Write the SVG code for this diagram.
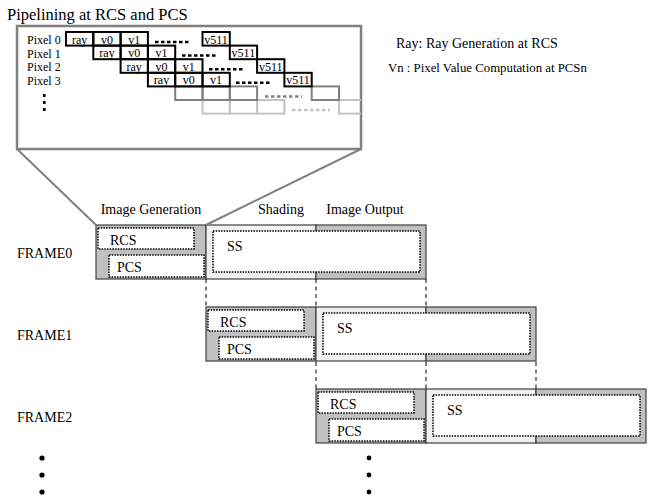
<svg xmlns="http://www.w3.org/2000/svg" width="654" height="497" viewBox="0 0 654 497">
<defs>
<style>
.t{font-family:"Liberation Serif","Times New Roman",serif;fill:#000}
.cell{fill:none;stroke:#000;stroke-width:2}
.c4{fill:none;stroke:#808080;stroke-width:2}
.c5{fill:none;stroke:#c4c4c4;stroke-width:2}
.dsh{stroke:#000;stroke-width:2.5;stroke-dasharray:3.5 2.5}
.dsh4{stroke:#808080;stroke-width:2.5;stroke-dasharray:3.5 2.5}
.dsh5{stroke:#c4c4c4;stroke-width:2.5;stroke-dasharray:3.5 2.5}
.dot{fill:#fff;stroke:#000;stroke-width:1.5;stroke-dasharray:1.5 1.2}
.gray{fill:#c0c0c0;stroke:#404040;stroke-width:1.2}
.light{fill:#f0f0f0;stroke:#404040;stroke-width:1.2}
.conn{stroke:#000;stroke-width:1;stroke-dasharray:4 3.5;fill:none}
.zl{stroke:#808080;stroke-width:2;fill:none}
</style>
<clipPath id="boxclip"><rect x="17" y="26" width="344" height="123"/></clipPath>
<g id="frameTpl">
<rect class="gray" x="0" y="0" width="110" height="54"/>
<rect class="light" x="110" y="0" width="110" height="54"/>
<rect class="gray" x="220" y="0" width="110" height="54"/>
<rect class="dot" x="2" y="3" width="96" height="21"/>
<rect class="dot" x="13" y="30" width="95" height="22"/>
<rect class="dot" x="117" y="6" width="207" height="41"/>
<text class="t" x="14" y="20" font-size="14">RCS</text>
<text class="t" x="21" y="47" font-size="14">PCS</text>
<text class="t" x="131" y="26" font-size="14">SS</text>
</g>
</defs>
<rect width="654" height="497" fill="#fff"/>

<text class="t" x="7" y="20" font-size="16.5">Pipelining at RCS and PCS</text>

<g id="zoombox">
<rect x="17" y="26" width="344" height="123" fill="#fff" stroke="#808080" stroke-width="2.5"/>
<g clip-path="url(#boxclip)">
<!-- row 5 light -->
<g>
<rect class="c5" x="202.5" y="100" width="27.3" height="13.6"/>
<rect class="c5" x="229.8" y="100" width="27.3" height="13.6"/>
<rect class="c5" x="257.1" y="100" width="27.3" height="13.6"/>
<rect class="c5" x="339" y="100" width="27.3" height="13.6"/>
<line class="dsh5" x1="292" y1="110" x2="330" y2="110"/>
</g>
<!-- row 4 gray -->
<g>
<rect class="c4" x="175.2" y="86.4" width="27.3" height="13.6"/>
<rect class="c4" x="202.5" y="86.4" width="27.3" height="13.6"/>
<rect class="c4" x="229.8" y="86.4" width="27.3" height="13.6"/>
<rect class="c4" x="311.7" y="86.4" width="27.3" height="13.6"/>
<line class="dsh4" x1="265" y1="96.4" x2="302" y2="96.4"/>
</g>
</g>
<!-- black rows -->
<g>
<rect class="cell" x="66" y="32" width="27.3" height="13.6"/>
<rect class="cell" x="93.3" y="32" width="27.3" height="13.6"/>
<rect class="cell" x="120.6" y="32" width="27.3" height="13.6"/>
<rect class="cell" x="202.5" y="32" width="27.3" height="13.6"/>
<line class="dsh" x1="155" y1="42" x2="191" y2="42"/>
<rect class="cell" x="93.3" y="45.6" width="27.3" height="13.6"/>
<rect class="cell" x="120.6" y="45.6" width="27.3" height="13.6"/>
<rect class="cell" x="147.9" y="45.6" width="27.3" height="13.6"/>
<rect class="cell" x="229.8" y="45.6" width="27.3" height="13.6"/>
<line class="dsh" x1="182" y1="55.6" x2="218" y2="55.6"/>
<rect class="cell" x="120.6" y="59.2" width="27.3" height="13.6"/>
<rect class="cell" x="147.9" y="59.2" width="27.3" height="13.6"/>
<rect class="cell" x="175.2" y="59.2" width="27.3" height="13.6"/>
<rect class="cell" x="257.1" y="59.2" width="27.3" height="13.6"/>
<line class="dsh" x1="209" y1="69.2" x2="245" y2="69.2"/>
<rect class="cell" x="147.9" y="72.8" width="27.3" height="13.6"/>
<rect class="cell" x="175.2" y="72.8" width="27.3" height="13.6"/>
<rect class="cell" x="202.5" y="72.8" width="27.3" height="13.6"/>
<rect class="cell" x="284.4" y="72.8" width="27.3" height="13.6"/>
<line class="dsh" x1="236" y1="82.8" x2="272" y2="82.8"/>
</g>
<g class="t" font-size="12" text-anchor="middle">
<text x="79.6" y="43.5">ray</text><text x="107" y="43.5">v0</text><text x="134.2" y="43.5">v1</text><text x="216.1" y="43.5">v511</text>
<text x="107" y="57.1">ray</text><text x="134.2" y="57.1">v0</text><text x="161.5" y="57.1">v1</text><text x="243.4" y="57.1">v511</text>
<text x="134.2" y="70.7">ray</text><text x="161.5" y="70.7">v0</text><text x="188.8" y="70.7">v1</text><text x="270.7" y="70.7">v511</text>
<text x="161.5" y="84.3">ray</text><text x="188.8" y="84.3">v0</text><text x="216.1" y="84.3">v1</text><text x="298" y="84.3">v511</text>
</g>
<g class="t" font-size="12">
<text x="27" y="44">Pixel 0</text>
<text x="27" y="57.5">Pixel 1</text>
<text x="27" y="71">Pixel 2</text>
<text x="27" y="84.5">Pixel 3</text>
</g>
<rect x="43" y="94" width="2.6" height="3" fill="#000"/>
<rect x="43" y="101" width="2.6" height="3" fill="#000"/>
<rect x="43" y="108" width="2.6" height="3" fill="#000"/>
</g>

<g id="legend">
<text class="t" x="396" y="48" font-size="14">Ray: Ray Generation at RCS</text>
<text class="t" x="388" y="72" font-size="12.8">Vn : Pixel Value Computation at PCSn</text>
</g>

<g id="headers" class="t" font-size="14" text-anchor="middle">
<text x="151" y="214">Image Generation</text>
<text x="281" y="214">Shading</text>
<text x="365" y="214">Image Output</text>
</g>

<g id="labels" class="t" font-size="14">
<text x="17" y="258">FRAME0</text>
<text x="17" y="340">FRAME1</text>
<text x="17" y="422">FRAME2</text>
</g>

<g id="frame0"><use href="#frameTpl" transform="translate(96,225)"/></g>
<g id="frame1"><use href="#frameTpl" transform="translate(206,307)"/></g>
<g id="frame2"><use href="#frameTpl" transform="translate(316,389)"/></g>

<g id="connectors">
<line class="zl" x1="17" y1="149" x2="96" y2="225"/>
<line class="zl" x1="361" y1="149" x2="206" y2="225"/>
<line class="conn" x1="206" y1="279" x2="206" y2="307"/>
<line class="conn" x1="316" y1="279" x2="316" y2="307"/>
<line class="conn" x1="426" y1="279" x2="426" y2="307"/>
<line class="conn" x1="316" y1="362" x2="316" y2="389"/>
<line class="conn" x1="426" y1="362" x2="426" y2="389"/>
<line class="conn" x1="536" y1="362" x2="536" y2="389"/>
</g>

<g id="ellipsis">
<circle cx="42" cy="458" r="2.6" fill="#000"/>
<circle cx="42" cy="475" r="2.6" fill="#000"/>
<circle cx="42" cy="492" r="2.6" fill="#000"/>
<circle cx="369" cy="458" r="2.4" fill="#000"/>
<circle cx="369" cy="475" r="2.4" fill="#000"/>
<circle cx="369" cy="492" r="2.4" fill="#000"/>
</g>
</svg>
